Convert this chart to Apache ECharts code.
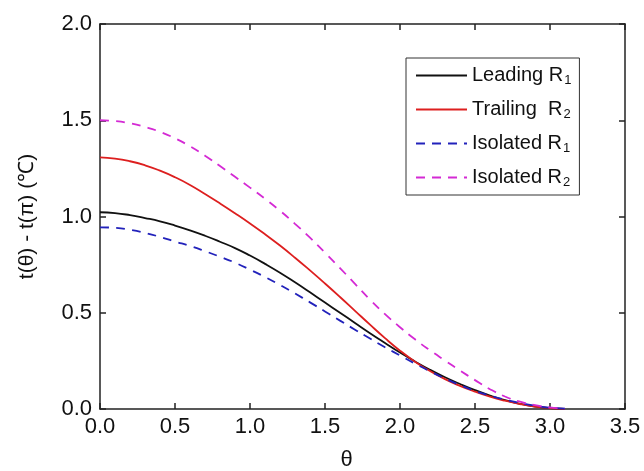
<!DOCTYPE html>
<html>
<head>
<meta charset="utf-8">
<style>
    html, body { margin: 0; padding: 0; background: #fff; }
    #chart { width: 644px; height: 471px; }
</style>
<script src="https://cdn.jsdelivr.net/npm/echarts@6/dist/echarts.min.js"></script>
</head>
<body>
<div id="chart"></div>
<script>
    // θ sample points (rad)
    let theta = [0.0, 0.1, 0.2, 0.3, 0.4, 0.5, 0.6, 0.7, 0.8, 0.9, 1.0, 1.1, 1.2, 1.3, 1.4, 1.5,
                 1.6, 1.7, 1.8, 1.9, 2.0, 2.1, 2.2, 2.3, 2.4, 2.5, 2.6, 2.7, 2.8, 2.9, 3.0, 3.1];
    // t(θ) - t(π)
    let leadingR1 = [1.022, 1.018, 1.007, 0.992, 0.975, 0.953, 0.928, 0.900, 0.869, 0.836, 0.797, 0.754,
                     0.708, 0.658, 0.606, 0.553, 0.500, 0.447, 0.394, 0.343, 0.293, 0.247, 0.204, 0.165,
                     0.130, 0.098, 0.070, 0.046, 0.027, 0.013, 0.005, 0.001];
    let trailingR2 = [1.307, 1.301, 1.287, 1.266, 1.238, 1.204, 1.164, 1.117, 1.068, 1.017, 0.964, 0.908,
                      0.849, 0.786, 0.720, 0.652, 0.582, 0.510, 0.438, 0.368, 0.303, 0.246, 0.197, 0.155,
                      0.120, 0.090, 0.064, 0.043, 0.026, 0.013, 0.005, 0.001];
    let isolatedR1 = [0.944, 0.941, 0.931, 0.915, 0.894, 0.870, 0.847, 0.820, 0.791, 0.760, 0.724, 0.686,
                      0.644, 0.600, 0.554, 0.507, 0.459, 0.412, 0.366, 0.321, 0.278, 0.236, 0.196, 0.158,
                      0.124, 0.094, 0.069, 0.048, 0.031, 0.017, 0.007, 0.002];
    let isolatedR2 = [1.500, 1.496, 1.484, 1.465, 1.440, 1.406, 1.365, 1.316, 1.262, 1.206, 1.150, 1.092,
                      1.030, 0.962, 0.890, 0.812, 0.732, 0.650, 0.568, 0.493, 0.425, 0.362, 0.305, 0.252,
                      0.200, 0.150, 0.103, 0.065, 0.038, 0.020, 0.008, 0.002];
    let xTicks = [0, 3.5, 0.5];   // min, max, interval
    let yTicks = [0, 2.0, 0.5];

    let names = ['Leading R1', 'Trailing  R2', 'Isolated R1', 'Isolated R2'];
    let colors = ['#111111', '#dd1f1f', '#2222bb', '#d42ad4'];
    let dashed = [false, false, true, true];
    let values = [leadingR1, trailingR2, isolatedR1, isolatedR2];

    let font = '"Liberation Sans", Arial, sans-serif';
    let frame = { onZero: false, lineStyle: { color: '#222', width: 1.5 } };
    let ticks = { inside: true, length: 6, lineStyle: { color: '#222', width: 1.5 } };

    function pairs(ys){
        return theta.map((t, i) => [t, ys[i]]);
    }

    let series = names.map((n, i) => ({
        name: n,
        type: 'line',
        smooth: true,
        showSymbol: false,
        symbol: 'none',
        xAxisIndex: 0,
        yAxisIndex: 0,
        lineStyle: { color: colors[i], width: 1.8, type: dashed[i] ? [9, 7] : 'solid' },
        itemStyle: { color: colors[i] },
        data: pairs(values[i]),
        z: 3 + i
    }));

    let chart = echarts.init(document.getElementById('chart'));
    let option = {
        animation: false,
        textStyle: { fontFamily: font },
        grid: { left: 100, right: 19, top: 24, bottom: 62, containLabel: false, outerBoundsMode: 'none' },
        legend: {
            orient: 'vertical',
            left: 406,
            top: 58,
            padding: [6, 8, 6, 9],
            itemGap: 11,
            itemWidth: 51,
            itemHeight: 14,
            borderColor: '#333',
            borderWidth: 1,
            itemStyle: { opacity: 0 },
            data: names,
            formatter: function(name){
                let k = name.lastIndexOf('R');
                return '{n|' + name.slice(0, k + 1) + '}{s|' + name.slice(k + 1) + '}';
            },
            textStyle: {
                fontFamily: font,
                color: '#111',
                rich: {
                    n: { fontSize: 20, lineHeight: 24, fontFamily: font, color: '#111' },
                    s: { fontSize: 13, lineHeight: 24, fontFamily: font, color: '#111', padding: [10, 0, 0, 1] }
                }
            }
        },
        xAxis: [
            {
                type: 'value', position: 'bottom',
                min: xTicks[0], max: xTicks[1], interval: xTicks[2],
                name: 'θ', nameLocation: 'middle', nameGap: 40,
                nameTextStyle: { fontSize: 22, color: '#111', fontFamily: font, padding: [0, 32, 0, 0] },
                axisLine: frame,
                axisTick: ticks,
                axisLabel: { fontSize: 22, color: '#111', margin: 7, fontFamily: font,
                             formatter: v => v.toFixed(1) },
                splitLine: { show: false }
            },
            {
                type: 'value', position: 'top',
                min: xTicks[0], max: xTicks[1], interval: xTicks[2],
                axisLine: frame,
                axisTick: ticks,
                axisLabel: { show: false },
                splitLine: { show: false }
            }
        ],
        yAxis: [
            {
                type: 'value', position: 'left',
                min: yTicks[0], max: yTicks[1], interval: yTicks[2],
                name: 't(θ) - t(π) (℃)', nameLocation: 'middle', nameGap: 62, nameRotate: 90,
                nameTextStyle: { fontSize: 21, color: '#111', fontFamily: font },
                axisLine: frame,
                axisTick: ticks,
                axisLabel: { fontSize: 22, color: '#111', margin: 8, fontFamily: font,
                             formatter: v => v.toFixed(1) },
                splitLine: { show: false }
            },
            {
                type: 'value', position: 'right',
                min: yTicks[0], max: yTicks[1], interval: yTicks[2],
                axisLine: frame,
                axisTick: ticks,
                axisLabel: { show: false },
                splitLine: { show: false }
            }
        ],
        series: series
    };
    chart.setOption(option);
</script>
</body>
</html>
